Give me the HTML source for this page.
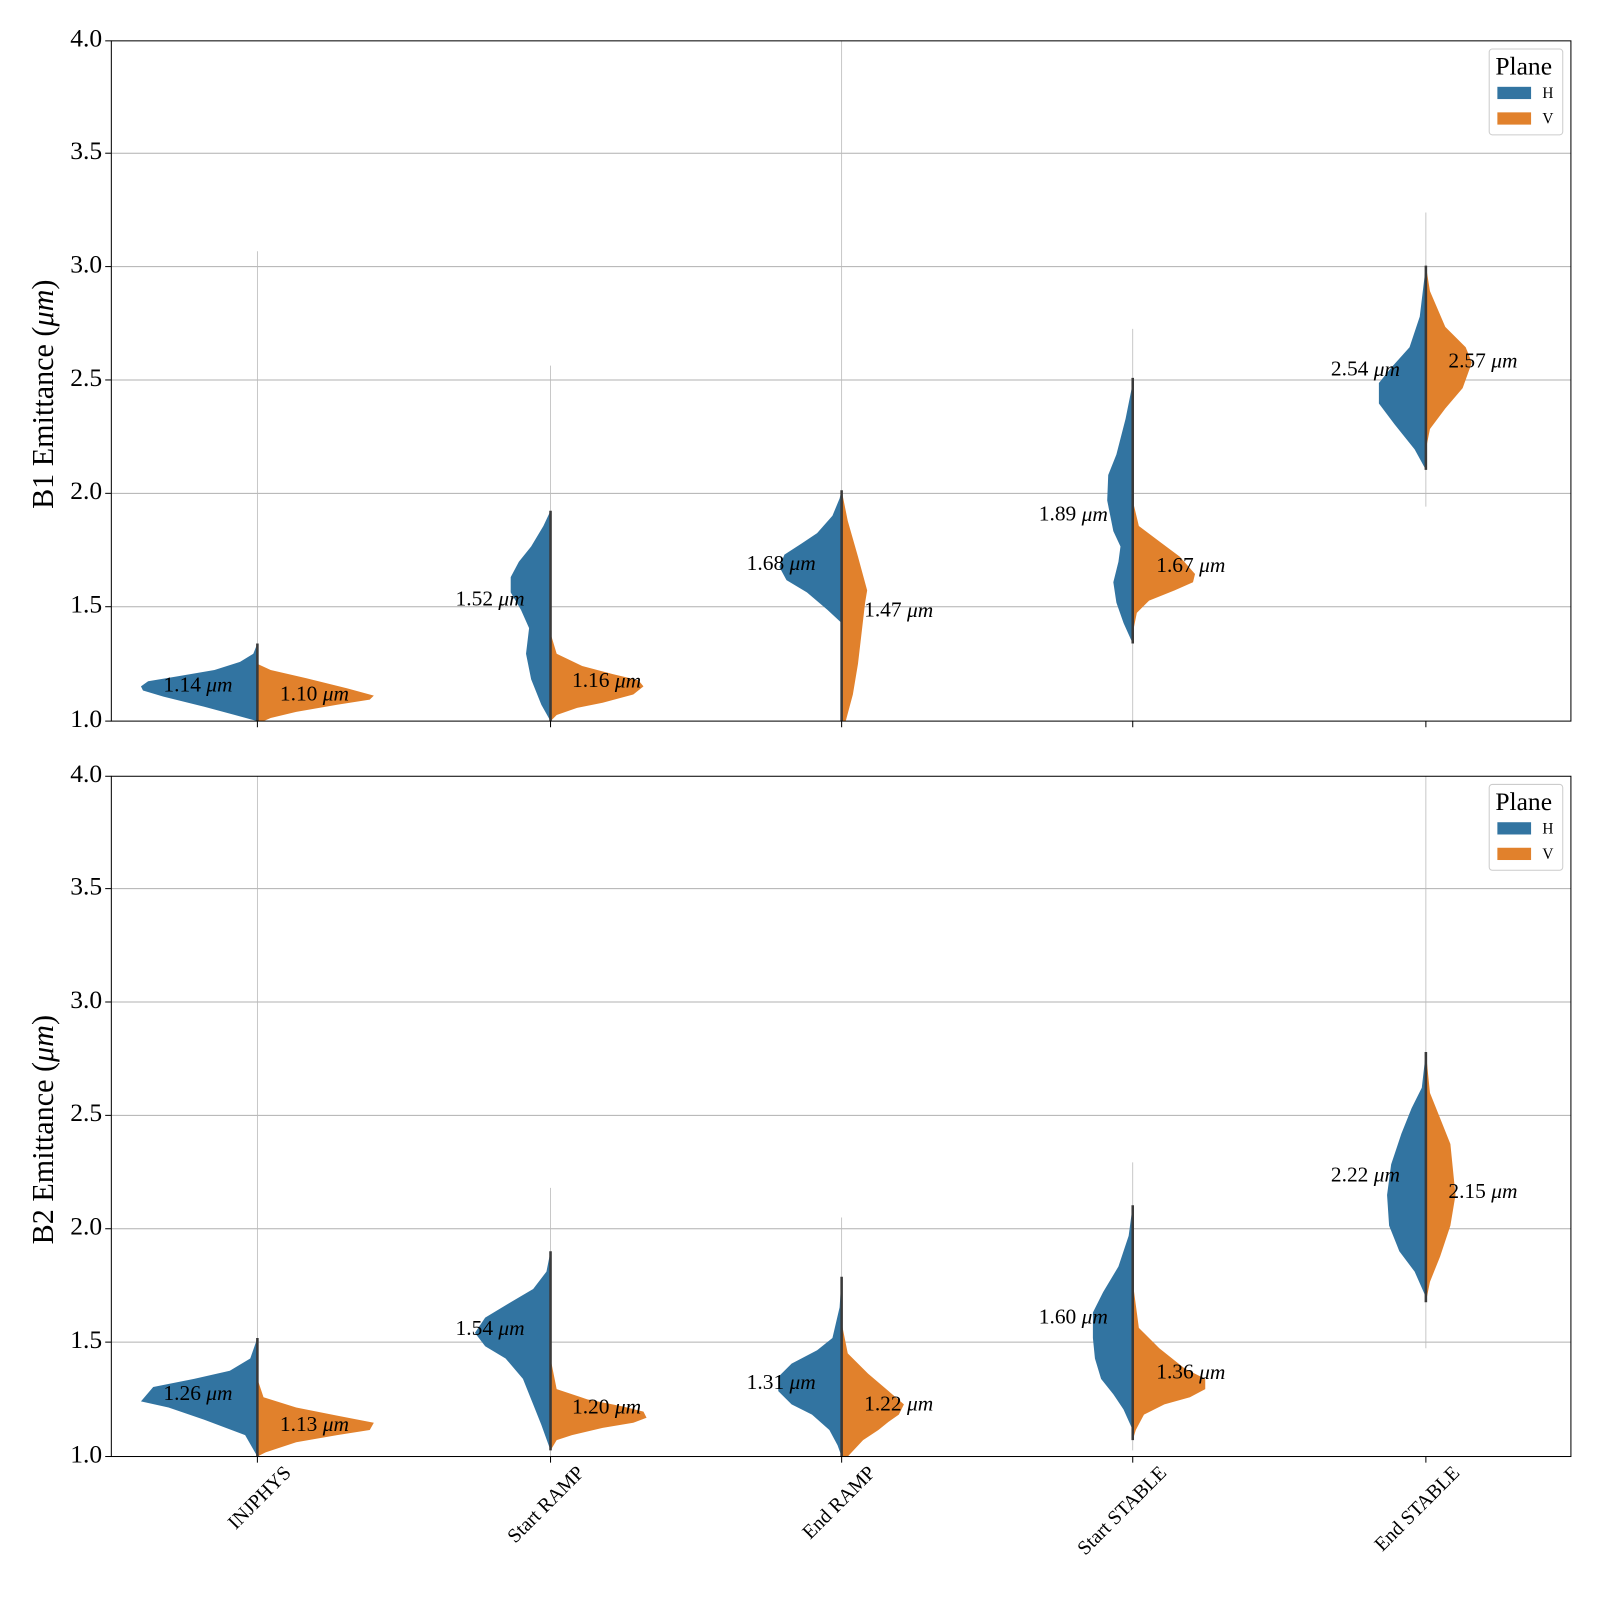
<!DOCTYPE html>
<html><head><meta charset="utf-8"><style>body{margin:0;background:#fff}svg{display:block}text{font-family:"Liberation Serif",serif;fill:#000}</style></head><body>
<svg width="1600" height="1600" viewBox="0 0 1600 1600" xmlns="http://www.w3.org/2000/svg">
<g transform="scale(1.0214)">
<g stroke="#b0b0b0" stroke-width="1">
<line x1="109" x2="1538" y1="150" y2="150"/><line x1="109" x2="1538" y1="261" y2="261"/><line x1="109" x2="1538" y1="372" y2="372"/><line x1="109" x2="1538" y1="483" y2="483"/><line x1="109" x2="1538" y1="594" y2="594"/>
<line x1="109" x2="1538" y1="870" y2="870"/><line x1="109" x2="1538" y1="981" y2="981"/><line x1="109" x2="1538" y1="1092" y2="1092"/><line x1="109" x2="1538" y1="1203" y2="1203"/><line x1="109" x2="1538" y1="1314" y2="1314"/>
</g>
<g stroke="#bbb" stroke-width="0.8">
<line x1="252" x2="252" y1="246" y2="706"/><line x1="539" x2="539" y1="358" y2="706"/><line x1="824" x2="824" y1="40" y2="706"/><line x1="1109" x2="1109" y1="322" y2="706"/><line x1="1396" x2="1396" y1="208" y2="496"/>
<line x1="252" x2="252" y1="760" y2="1426"/><line x1="539" x2="539" y1="1163" y2="1426"/><line x1="824" x2="824" y1="1192" y2="1426"/><line x1="1109" x2="1109" y1="1138" y2="1420"/><line x1="1396" x2="1396" y1="760" y2="1320"/>
</g>
<g fill="#3274a1">
<path d="M252,706 L230,700 L200,692 L160,682 L140,676 L138,672 L145,667 L175,662 L210,656 L235,648 L248,640 L252,630Z"/>
<path d="M539,706 L530,690 L520,665 L515,640 L518,615 L510,597 L500,580 L500,565 L508,550 L520,535 L532,515 L539,500Z"/>
<path d="M824,610 L810,597 L790,580 L770,568 L763,555 L768,543 L785,532 L800,522 L815,505 L822,488 L824,480Z"/>
<path d="M1109,630 L1100,610 L1093,590 L1090,570 L1095,550 L1097,535 L1090,520 L1084,490 L1085,465 L1093,445 L1102,410 L1108,380 L1109,370Z"/>
<path d="M1396,460 L1385,440 L1365,415 L1350,395 L1350,375 L1362,360 L1380,340 L1390,310 L1396,260Z"/>
<path d="M252,1426 L240,1405 L200,1390 L165,1378 L138,1372 L150,1358 L190,1350 L225,1342 L245,1330 L252,1310Z"/>
<path d="M539,1420 L530,1395 L522,1375 L512,1350 L495,1330 L475,1318 L465,1305 L475,1290 L500,1275 L522,1262 L535,1245 L539,1225Z"/>
<path d="M824,1426 L820,1415 L812,1400 L795,1385 L775,1375 L762,1362 L762,1348 L775,1335 L800,1322 L815,1310 L822,1280 L824,1250Z"/>
<path d="M1109,1400 L1100,1380 L1090,1365 L1078,1350 L1072,1330 L1070,1310 L1070,1285 L1080,1265 L1095,1240 L1105,1210 L1109,1180Z"/>
<path d="M1396,1270 L1385,1245 L1370,1225 L1360,1200 L1358,1170 L1362,1140 L1372,1110 L1382,1085 L1392,1065 L1396,1030Z"/>
</g>
<g fill="#e1812c">
<path d="M252,650 L265,656 L300,664 L340,674 L366,681 L362,685 L330,690 L290,697 L265,703 L258,706 L252,706Z"/>
<path d="M539,620 L545,640 L570,652 L600,660 L625,666 L630,672 L620,680 L590,688 L565,693 L545,700 L539,706Z"/>
<path d="M824,480 L830,510 L840,545 L849,578 L847,590 L840,650 L835,680 L828,706 L824,706Z"/>
<path d="M1109,490 L1115,515 L1135,530 L1155,545 L1170,562 L1168,570 L1150,578 L1125,588 L1113,600 L1109,620Z"/>
<path d="M1396,260 L1400,285 L1415,320 L1435,340 L1441,355 L1432,380 L1415,400 L1400,420 L1396,440Z"/>
<path d="M252,1350 L258,1368 L290,1378 L330,1386 L366,1393 L362,1400 L330,1405 L290,1412 L260,1422 L252,1426Z"/>
<path d="M539,1330 L545,1360 L575,1370 L610,1377 L630,1382 L633,1388 L620,1393 L590,1398 L560,1405 L545,1410 L539,1420Z"/>
<path d="M824,1295 L830,1325 L850,1345 L870,1362 L885,1375 L880,1385 L870,1392 L860,1400 L845,1410 L830,1426 L824,1426Z"/>
<path d="M1109,1255 L1115,1300 L1135,1320 L1160,1340 L1180,1350 L1180,1360 L1165,1368 L1140,1375 L1120,1385 L1112,1400 L1109,1410Z"/>
<path d="M1396,1030 L1400,1070 L1410,1095 L1420,1120 L1425,1170 L1420,1200 L1410,1230 L1400,1255 L1396,1275Z"/>
</g>
<g stroke="#3a3a3a" stroke-width="2.5">
<line x1="252" x2="252" y1="630" y2="706"/><line x1="539" x2="539" y1="500" y2="706"/><line x1="824" x2="824" y1="480" y2="706"/><line x1="1109" x2="1109" y1="370" y2="630"/><line x1="1396" x2="1396" y1="260" y2="460"/>
<line x1="252" x2="252" y1="1310" y2="1426"/><line x1="539" x2="539" y1="1225" y2="1420"/><line x1="824" x2="824" y1="1250" y2="1426"/><line x1="1109" x2="1109" y1="1180" y2="1410"/><line x1="1396" x2="1396" y1="1030" y2="1275"/>
</g>
<g font-size="21" dominant-baseline="middle">
<text x="160" y="672">1.14 <tspan font-style="italic">μm</tspan></text>
<text x="274" y="681">1.10 <tspan font-style="italic">μm</tspan></text>
<text x="446" y="588">1.52 <tspan font-style="italic">μm</tspan></text>
<text x="560" y="668">1.16 <tspan font-style="italic">μm</tspan></text>
<text x="731" y="553">1.68 <tspan font-style="italic">μm</tspan></text>
<text x="846" y="599">1.47 <tspan font-style="italic">μm</tspan></text>
<text x="1017" y="505">1.89 <tspan font-style="italic">μm</tspan></text>
<text x="1132" y="555">1.67 <tspan font-style="italic">μm</tspan></text>
<text x="1303" y="363">2.54 <tspan font-style="italic">μm</tspan></text>
<text x="1418" y="355">2.57 <tspan font-style="italic">μm</tspan></text>
<text x="160" y="1366">1.26 <tspan font-style="italic">μm</tspan></text>
<text x="274" y="1396">1.13 <tspan font-style="italic">μm</tspan></text>
<text x="446" y="1302">1.54 <tspan font-style="italic">μm</tspan></text>
<text x="560" y="1379">1.20 <tspan font-style="italic">μm</tspan></text>
<text x="731" y="1355">1.31 <tspan font-style="italic">μm</tspan></text>
<text x="846" y="1376">1.22 <tspan font-style="italic">μm</tspan></text>
<text x="1017" y="1291">1.60 <tspan font-style="italic">μm</tspan></text>
<text x="1132" y="1345">1.36 <tspan font-style="italic">μm</tspan></text>
<text x="1303" y="1152">2.22 <tspan font-style="italic">μm</tspan></text>
<text x="1418" y="1168">2.15 <tspan font-style="italic">μm</tspan></text>
</g>
<g fill="none" stroke="#000" stroke-width="1">
<rect x="109" y="40" width="1429" height="666"/>
<rect x="109" y="760" width="1429" height="666"/>
</g>
<g stroke="#000" stroke-width="1">
<line x1="103" x2="109" y1="40" y2="40"/><line x1="103" x2="109" y1="150" y2="150"/><line x1="103" x2="109" y1="261" y2="261"/><line x1="103" x2="109" y1="372" y2="372"/><line x1="103" x2="109" y1="483" y2="483"/><line x1="103" x2="109" y1="594" y2="594"/><line x1="103" x2="109" y1="706" y2="706"/>
<line x1="103" x2="109" y1="760" y2="760"/><line x1="103" x2="109" y1="870" y2="870"/><line x1="103" x2="109" y1="981" y2="981"/><line x1="103" x2="109" y1="1092" y2="1092"/><line x1="103" x2="109" y1="1203" y2="1203"/><line x1="103" x2="109" y1="1314" y2="1314"/><line x1="103" x2="109" y1="1426" y2="1426"/>
<line x1="252" x2="252" y1="706" y2="712"/><line x1="539" x2="539" y1="706" y2="712"/><line x1="824" x2="824" y1="706" y2="712"/><line x1="1109" x2="1109" y1="706" y2="712"/><line x1="1396" x2="1396" y1="706" y2="712"/>
<line x1="252" x2="252" y1="1426" y2="1432"/><line x1="539" x2="539" y1="1426" y2="1432"/><line x1="824" x2="824" y1="1426" y2="1432"/><line x1="1109" x2="1109" y1="1426" y2="1432"/><line x1="1396" x2="1396" y1="1426" y2="1432"/>
</g>
<g font-size="25" text-anchor="end" dominant-baseline="middle">
<text x="100" y="40">4.0</text><text x="100" y="150">3.5</text><text x="100" y="261">3.0</text><text x="100" y="372">2.5</text><text x="100" y="483">2.0</text><text x="100" y="594">1.5</text><text x="100" y="706">1.0</text>
<text x="100" y="760">4.0</text><text x="100" y="870">3.5</text><text x="100" y="981">3.0</text><text x="100" y="1092">2.5</text><text x="100" y="1203">2.0</text><text x="100" y="1314">1.5</text><text x="100" y="1426">1.0</text>
</g>
<text font-size="29.5" text-anchor="middle" transform="translate(52,386) rotate(-90)">B1 Emittance (<tspan font-style="italic">μm</tspan>)</text>
<text font-size="29.5" text-anchor="middle" transform="translate(52,1106) rotate(-90)">B2 Emittance (<tspan font-style="italic">μm</tspan>)</text>
<g font-size="19.5" text-anchor="end">
<text transform="translate(286,1443) rotate(-45)">INJPHYS</text>
<text transform="translate(573,1443) rotate(-45)">Start RAMP</text>
<text transform="translate(858,1443) rotate(-45)">End RAMP</text>
<text transform="translate(1143,1443) rotate(-45)">Start STABLE</text>
<text transform="translate(1430,1443) rotate(-45)">End STABLE</text>
</g>
<g>
<rect x="1458" y="48" width="72" height="84" rx="3" fill="#fff" stroke="#ccc"/>
<text x="1464" y="73" font-size="25">Plane</text>
<rect x="1466" y="85" width="33" height="12" fill="#3274a1"/>
<text x="1510" y="96" font-size="15">H</text>
<rect x="1466" y="110" width="33" height="12" fill="#e1812c"/>
<text x="1510" y="121" font-size="15">V</text>
<rect x="1458" y="768" width="72" height="84" rx="3" fill="#fff" stroke="#ccc"/>
<text x="1464" y="793" font-size="25">Plane</text>
<rect x="1466" y="805" width="33" height="12" fill="#3274a1"/>
<text x="1510" y="816" font-size="15">H</text>
<rect x="1466" y="830" width="33" height="12" fill="#e1812c"/>
<text x="1510" y="841" font-size="15">V</text>
</g>
</g>
</svg>
</body></html>
